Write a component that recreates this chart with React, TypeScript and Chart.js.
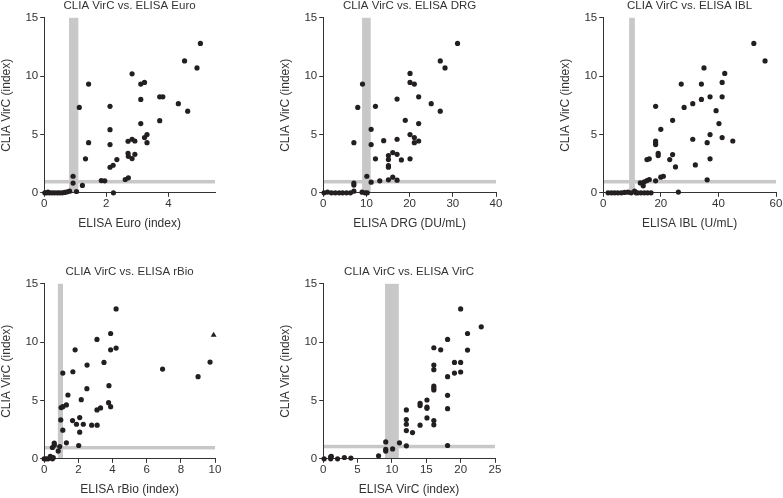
import React, { useEffect, useRef } from "react";
import { Chart, registerables } from "chart.js";

Chart.register(...registerables);

// ---------------- DATA ----------------
const Y_LABEL = "CLIA VirC (index)";
const Y_MAX = 15;
const Y_STEP = 5;

const euroTitle = "CLIA VirC vs. ELISA Euro";
const euroXLabel = "ELISA Euro (index)";
const euroX = [0.02, 0.08, 0.12, 0.17, 0.25, 0.33, 0.42, 0.5, 0.58, 0.66, 0.74, 0.82, 0.93, 0.93, 1.04, 1.23, 1.13, 1.43, 1.43, 1.33, 1.84, 1.95, 2.12, 2.12, 2.12, 2.12, 2.22, 2.34, 2.23, 2.61, 2.71, 2.83, 2.7, 2.83, 2.92, 2.7, 2.71, 2.83, 2.92, 3.11, 3.23, 3.11, 3.11, 3.23, 3.31, 3.31, 3.72, 3.82, 3.72, 4.32, 4.62, 4.52, 4.92, 5.03];
const euroY = [0, 0, 0.05, 0, 0, 0, 0, 0, 0, 0.03, 0.08, 0.14, 1.42, 0.83, 0.11, 0.63, 7.32, 9.32, 4.3, 2.91, 1.05, 1.03, 7.41, 5.41, 4.13, 2.19, 2.36, 2.85, 0, 1.14, 1.28, 10.2, 4.42, 4.59, 4.44, 3.39, 3.13, 2.93, 3.3, 9.32, 9.46, 8.0, 5.93, 4.73, 4.99, 4.3, 8.23, 8.23, 6.18, 7.64, 7.0, 11.3, 10.7, 12.8];
const euroXMax = 5.5;
const euroXStep = 2;
const euroBands = [[0.8, 1.1, 0, 15], [0, 5.5, 0.8, 1.1]];

const drgTitle = "CLIA VirC vs. ELISA DRG";
const drgXLabel = "ELISA DRG (DU/mL)";
const drgX = [0.2, 1.0, 1.9, 2.8, 3.7, 4.5, 5.4, 6.3, 7.1, 7.1, 7.1, 7.1, 8.0, 9.1, 9.0, 9.7, 10.2, 10.1, 11.1, 11.1, 11.1, 12.1, 12.1, 13.1, 14.0, 15.1, 15.1, 15.1, 15.1, 15.1, 16.1, 16.1, 17.1, 17.1, 17.1, 17.1, 18.1, 19.0, 20.1, 20.1, 20.1, 20.1, 21.1, 21.1, 21.1, 22.1, 22.1, 22.1, 25.0, 27.1, 27.1, 28.2, 31.1];
const drgY = [0, 0.06, 0, 0, 0, 0, 0, 0, 0.14, 0.66, 0.83, 4.3, 7.32, 9.32, 0.05, 0, 0, 1.42, 0.91, 5.44, 4.13, 7.41, 2.91, 1.03, 4.47, 1.11, 3.19, 2.85, 2.34, 2.19, 3.45, 1.34, 8.03, 4.59, 3.3, 1.08, 2.82, 6.21, 10.23, 9.46, 4.99, 2.91, 9.32, 4.73, 4.3, 8.23, 5.93, 4.44, 7.64, 11.3, 7.0, 10.7, 12.8];
const drgXMax = 40;
const drgXStep = 10;
const drgBands = [[9, 11, 0, 15], [0, 40, 0.8, 1.1]];

const iblTitle = "CLIA VirC vs. ELISA IBL";
const iblXLabel = "ELISA IBL (U/mL)";
const iblX = [1.7, 2.9, 4.0, 5.1, 6.3, 7.4, 8.6, 9.7, 10.9, 11.4, 12.0, 13.1, 14.3, 15.4, 16.6, 12.9, 13.9, 14.3, 15.2, 16.0, 18.2, 20.0, 20.9, 15.2, 16.0, 18.2, 18.2, 18.2, 18.2, 19.1, 19.1, 20.0, 23.1, 24.1, 24.1, 25.1, 26.1, 27.1, 28.1, 31.1, 31.1, 32.0, 34.1, 34.1, 35.0, 36.1, 36.1, 37.1, 37.1, 37.1, 39.2, 40.2, 41.3, 41.3, 41.3, 42.2, 45.0, 52.3, 56.2];
const iblY = [0, 0, 0, 0, 0, 0.03, 0.05, 0, 0.14, 0, 0, 0, 0, 0, 0, 0.85, 0.6, 0.94, 1.05, 1.14, 1.03, 1.34, 1.42, 2.85, 2.91, 7.41, 4.44, 4.27, 4.13, 3.39, 3.19, 5.44, 2.85, 3.28, 6.21, 2.22, 0.06, 9.32, 7.32, 4.59, 7.64, 2.39, 9.32, 8.0, 10.7, 4.3, 1.11, 8.23, 4.99, 2.91, 7.04, 5.93, 9.46, 8.23, 4.73, 10.23, 4.44, 12.8, 11.3];
const iblXMax = 60;
const iblXStep = 20;
const iblBands = [[9, 11, 0, 15], [0, 60, 0.8, 1.1]];

const rbioTitle = "CLIA VirC vs. ELISA rBio";
const rbioXLabel = "ELISA rBio (index)";
const rbioX = [0, 0.11, 0.23, 0.36, 0.48, 0.53, 0.48, 0.59, 0.59, 0.82, 0.91, 0.97, 0.99, 1.09, 1.3, 1.09, 1.09, 1.3, 1.39, 1.66, 1.89, 1.68, 1.81, 2.02, 2.08, 2.08, 2.17, 2.29, 2.5, 2.51, 2.78, 3.1, 3.09, 3.3, 3.09, 3.5, 3.79, 3.77, 3.89, 3.89, 3.89, 4.21, 4.21, 6.93, 9.01, 9.71];
const rbioY = [0, 0, 0, 0.2, 0, 0.1, 0.97, 1.34, 1.17, 0.66, 1.05, 3.33, 4.39, 4.47, 4.62, 7.35, 2.45, 1.37, 5.47, 3.28, 2.96, 7.46, 9.34, 1.14, 3.53, 2.28, 5.07, 2.96, 6.01, 8.03, 2.88, 2.88, 4.19, 4.36, 10.23, 8.26, 6.27, 4.81, 4.47, 10.74, 9.34, 12.85, 9.49, 7.69, 7.04, 8.29];
const rbioTriX = [9.92];
const rbioTriY = [10.6];
const rbioXMax = 10;
const rbioXStep = 2;
const rbioBands = [[0.8, 1.1, 0, 15], [0, 10, 0.8, 1.1]];

const virTitle = "CLIA VirC vs. ELISA VirC";
const virXLabel = "ELISA VirC (index)";
const virX = [0.14, 1.09, 1.09, 1.18, 2.09, 3.08, 4.03, 8.06, 9.1, 9.1, 9.1, 10.1, 11.1, 12.1, 12.1, 12.1, 12.1, 12.1, 13.0, 14.1, 14.1, 14.1, 15.1, 15.1, 15.1, 15.1, 16.1, 16.1, 16.1, 16.1, 16.1, 16.1, 16.1, 16.1, 17.1, 18.1, 18.1, 18.1, 18.1, 18.1, 19.1, 19.1, 20.0, 20.0, 20.0, 21.0, 21.0, 23.0];
const virY = [0, 0.17, 0, 0.2, 0, 0.11, 0.06, 0.26, 1.45, 0.8, 0.66, 0.85, 1.37, 4.19, 3.36, 2.96, 2.42, 1.11, 2.25, 4.76, 4.56, 2.88, 5.04, 4.44, 4.33, 3.5, 9.52, 8.03, 7.64, 6.24, 6.07, 5.9, 3.28, 2.91, 9.34, 10.23, 7.04, 5.44, 4.3, 1.14, 8.26, 7.35, 8.26, 7.44, 12.85, 10.74, 9.32, 11.31];
const virXMax = 25;
const virXStep = 5;
const virBands = [[9, 11, 0, 15], [0, 25, 0.9, 1.2]];

// ---------------- STYLE ----------------
const FONT = "'Liberation Sans', Arial, Helvetica, sans-serif";
const TEXT = "#333333";
const AXIS = "#333333";
const DOT = "#231f20";
const BAND = "#c8c8c8";

const bandPlugin = {
  id: "bands",
  beforeDraw(chart: any, _args: any, opts: any) {
    const { ctx, scales } = chart;
    const x = scales.x;
    const y = scales.y;
    ctx.save();
    ctx.fillStyle = opts.color;
    for (const b of opts.bands as number[][]) {
      const x0 = x.getPixelForValue(b[0]);
      const x1 = x.getPixelForValue(b[1]);
      const y0 = y.getPixelForValue(b[2]);
      const y1 = y.getPixelForValue(b[3]);
      ctx.fillRect(Math.min(x0, x1), Math.min(y0, y1), Math.abs(x1 - x0), Math.abs(y1 - y0));
    }
    ctx.restore();
  },
};

function toPts(xs: number[], ys: number[]) {
  return xs.map((v, i) => ({ x: v, y: ys[i] }));
}

type PanelDef = {
  title: string;
  xLabel: string;
  xs: number[];
  ys: number[];
  triX?: number[];
  triY?: number[];
  xMax: number;
  xStep: number;
  bands: number[][];
  left: number;
  top: number;
  width: number;
  height: number;
};

const panels: PanelDef[] = [
  { title: euroTitle, xLabel: euroXLabel, xs: euroX, ys: euroY, xMax: euroXMax, xStep: euroXStep, bands: euroBands, left: -1, top: -1, width: 223, height: 232 },
  { title: drgTitle, xLabel: drgXLabel, xs: drgX, ys: drgY, xMax: drgXMax, xStep: drgXStep, bands: drgBands, left: 278, top: -1, width: 225, height: 232 },
  { title: iblTitle, xLabel: iblXLabel, xs: iblX, ys: iblY, xMax: iblXMax, xStep: iblXStep, bands: iblBands, left: 558, top: -1, width: 225, height: 232 },
  { title: rbioTitle, xLabel: rbioXLabel, xs: rbioX, ys: rbioY, triX: rbioTriX, triY: rbioTriY, xMax: rbioXMax, xStep: rbioXStep, bands: rbioBands, left: -1, top: 265, width: 223, height: 232 },
  { title: virTitle, xLabel: virXLabel, xs: virX, ys: virY, xMax: virXMax, xStep: virXStep, bands: virBands, left: 278, top: 265, width: 224, height: 232 },
];

function Panel({ def }: { def: PanelDef }) {
  const ref = useRef<HTMLCanvasElement | null>(null);
  useEffect(() => {
    if (!ref.current) return;
    const datasets: any[] = [
      {
        data: toPts(def.xs, def.ys),
        backgroundColor: DOT,
        borderWidth: 0,
        pointRadius: 2.6,
        pointStyle: "circle",
        clip: false,
      },
    ];
    if (def.triX && def.triY) {
      datasets.push({
        data: toPts(def.triX, def.triY),
        backgroundColor: DOT,
        borderWidth: 0,
        pointRadius: 3.4,
        pointStyle: "triangle",
        clip: false,
      });
    }
    const chart = new Chart(ref.current, {
      type: "scatter",
      data: { datasets },
      plugins: [bandPlugin as any],
      options: {
        animation: false,
        responsive: false,
        devicePixelRatio: 1,
        layout: { padding: { left: 0, right: 7, top: 0, bottom: 0 } },
        plugins: {
          legend: { display: false },
          tooltip: { enabled: false },
          title: {
            display: true,
            text: def.title,
            color: TEXT,
            fullSize: false,
            font: { family: FONT, size: 11.5, weight: "normal" as any },
            padding: { top: 0, bottom: 5 },
          },
          bands: { bands: def.bands, color: BAND },
        } as any,
        scales: {
          x: {
            type: "linear",
            min: 0,
            max: def.xMax,
            border: { display: true, color: AXIS, width: 1 },
            grid: { display: true, drawOnChartArea: false, drawTicks: true, tickLength: 4, tickColor: AXIS, color: AXIS },
            ticks: { stepSize: def.xStep, includeBounds: false, color: TEXT, padding: 0, font: { family: FONT, size: 11.5 } },
            title: { display: true, text: def.xLabel, color: TEXT, font: { family: FONT, size: 12 }, padding: { top: 6, bottom: 0 } },
          },
          y: {
            type: "linear",
            min: 0,
            max: Y_MAX,
            border: { display: true, color: AXIS, width: 1 },
            grid: { display: true, drawOnChartArea: false, drawTicks: true, tickLength: 4, tickColor: AXIS, color: AXIS },
            ticks: { stepSize: Y_STEP, color: TEXT, padding: 2, font: { family: FONT, size: 11.5 } },
            title: { display: true, text: Y_LABEL, color: TEXT, font: { family: FONT, size: 12 }, padding: { top: 0, bottom: 10 } },
          },
        },
      } as any,
    });
    return () => chart.destroy();
  }, [def]);
  return (
    <canvas
      ref={ref}
      width={def.width}
      height={def.height}
      style={{ position: "absolute", left: def.left, top: def.top, width: def.width, height: def.height }}
    />
  );
}

export default function App() {
  return (
    <div style={{ position: "absolute", left: 0, top: 0, width: 783, height: 498, overflow: "hidden", background: "#ffffff" }}>
      {panels.map((p, i) => (
        <Panel key={i} def={p} />
      ))}
    </div>
  );
}
